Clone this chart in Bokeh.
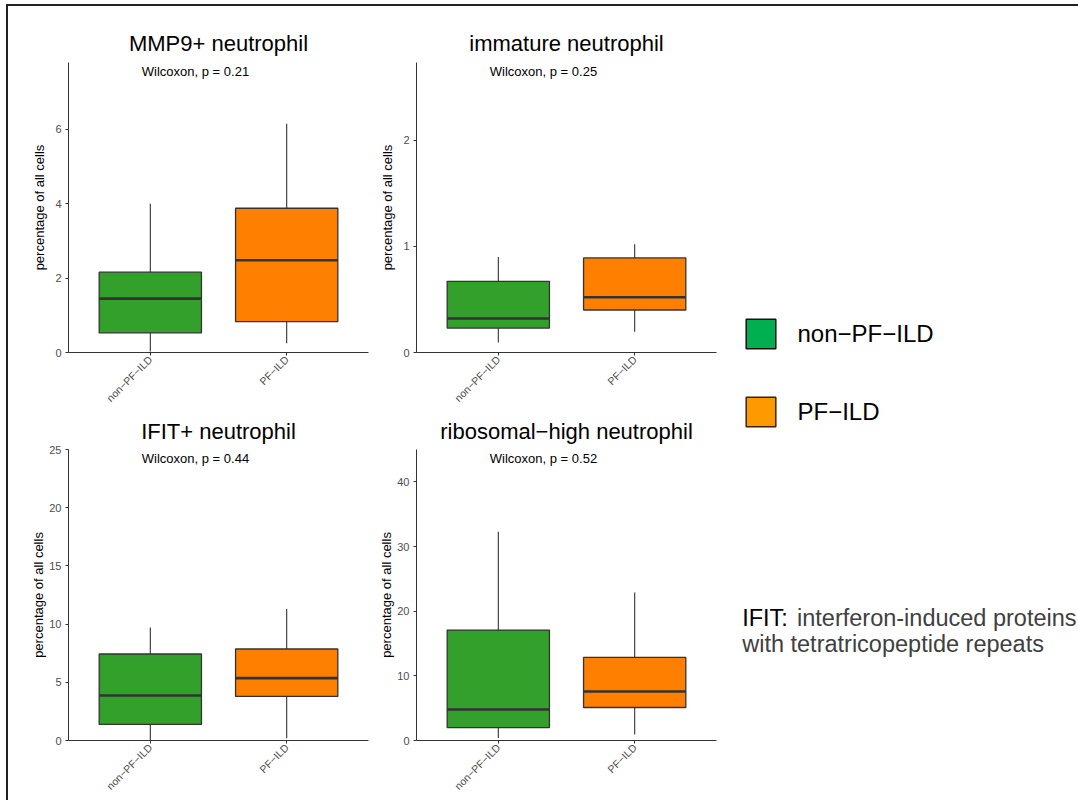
import math
from bokeh.plotting import figure
from bokeh.models import (Range1d, FactorRange, FixedTicker, Legend, LegendItem,
                          ColumnDataSource, Label)
from bokeh.layouts import row, column
from bokeh.embed import file_html
from bokeh.resources import INLINE
from bokeh.core.properties import value

# ---------------- data ----------------
groups = ["non−PF−ILD", "PF−ILD"]
box_colors = ["#33A02C", "#FF7F00"]
legend_colors = ["#00B050", "#FF9900"]
legend_lines = ["#111111", "#3A2400"]

titles = ["MMP9+ neutrophil", "immature neutrophil",
          "IFIT+ neutrophil", "ribosomal−high neutrophil"]
p_values = ["0.21", "0.25", "0.44", "0.52"]
y_max = [7.8, 2.73, 25.0, 45.0]
y_ticks = [[0, 2, 4, 6], [0, 1, 2], [0, 5, 10, 15, 20, 25], [0, 10, 20, 30, 40]]

# per panel: [non-PF-ILD, PF-ILD]
lower = [[0.03, 0.25], [0.094, 0.195], [0.05, 0.2], [0.4, 0.93]]
q1 = [[0.53, 0.83], [0.23, 0.40], [1.38, 3.79], [2.0, 5.1]]
median = [[1.45, 2.48], [0.32, 0.52], [3.87, 5.36], [4.8, 7.58]]
q3 = [[2.16, 3.88], [0.67, 0.89], [7.43, 7.86], [17.07, 12.85]]
upper = [[4.0, 6.15], [0.90, 1.02], [9.7, 11.3], [32.3, 22.9]]

note_head = "IFIT:"
note_line1 = "interferon-induced proteins"
note_line2 = "with tetratricopeptide repeats"

FONT = "Liberation Sans"
BOX_W = 0.75
AX = "#333333"


def make_panel(i):
    r, c = divmod(i, 2)
    p = figure(x_range=FactorRange(*groups, range_padding=0.1, range_padding_units="absolute"),
               y_range=Range1d(0, y_max[i]),
               frame_width=300, frame_height=[290, 291][r],
               min_border_left=[60, 40][c], min_border_right=[8, 14][c],
               min_border_top=[56, 34][r], min_border_bottom=[54, 54][r],
               title=titles[i], output_backend="svg", toolbar_location=None)
    src = ColumnDataSource(dict(
        x=groups, lo=lower[i], q1=q1[i], med=median[i], q3=q3[i], hi=upper[i],
        color=box_colors,
        left=[(g, -BOX_W / 2) for g in groups],
        right=[(g, BOX_W / 2) for g in groups]))
    p.segment(x0="x", x1="x", y0="q3", y1="hi", source=src, line_color=AX, line_width=1.1)
    p.segment(x0="x", x1="x", y0="lo", y1="q1", source=src, line_color=AX, line_width=1.1)
    p.vbar(x="x", bottom="q1", top="q3", width=BOX_W, fill_color="color",
           line_color=AX, line_width=1.3, source=src)
    p.segment(x0="left", x1="right", y0="med", y1="med", source=src,
              line_color=AX, line_width=2.6)
    p.text(x=[groups[0]], y=[0.969 * y_max[i]], text=[f"Wilcoxon, p = {p_values[i]}"],
           text_font=value(FONT), text_font_size="13px", text_align="left",
           text_baseline="alphabetic", x_offset=-8.5, text_color="black")

    p.title.align = "center"
    p.title.text_font = FONT
    p.title.text_font_size = "22px"
    p.title.text_font_style = "normal"
    p.title.text_color = "black"
    p.title.standoff = [14, 11][r]

    p.xgrid.grid_line_color = None
    p.ygrid.grid_line_color = None
    p.outline_line_color = None

    xa = p.xaxis[0]
    xa.axis_line_color = AX
    xa.major_tick_line_color = AX
    xa.major_tick_out = 3
    xa.major_tick_in = 0
    xa.major_label_orientation = math.pi / 4
    xa.major_label_text_font = FONT
    xa.major_label_text_font_size = "10.5px"
    xa.major_label_text_color = "#4D4D4D"
    xa.major_label_standoff = 2

    ya = p.yaxis[0]
    ya.ticker = FixedTicker(ticks=y_ticks[i])
    ya.axis_line_color = AX
    ya.major_tick_line_color = AX
    ya.major_tick_out = 3
    ya.major_tick_in = 0
    ya.minor_tick_line_color = None
    ya.major_label_text_font = FONT
    ya.major_label_text_font_size = "11px"
    ya.major_label_text_color = "#4D4D4D"
    ya.major_label_standoff = 4
    ya.axis_label = "percentage of all cells"
    ya.axis_label_text_font = FONT
    ya.axis_label_text_font_size = "13px"
    ya.axis_label_text_font_style = "normal"
    ya.axis_label_text_color = "black"
    ndig = max(len(str(t)) for t in y_ticks[i])
    ya.axis_label_standoff = max(0, int(11 - 6 * ndig))
    return p


panels = [make_panel(i) for i in range(4)]

# ------------- legend + note -------------
RF_W, RF_H = 348, 794
rf = figure(width=RF_W, height=RF_H, x_range=Range1d(0, RF_W), y_range=Range1d(RF_H, 0),
            min_border=0, output_backend="svg", toolbar_location=None,
            x_axis_location=None, y_axis_location=None)
rf.grid.visible = False
rf.outline_line_color = None
items = []
nan = float("nan")
for g, fc, lc in zip(groups, legend_colors, legend_lines):
    rr = rf.quad(left=[nan], right=[nan], top=[nan], bottom=[nan], fill_color=fc,
                 line_color=lc, line_width=1.5)
    items.append(LegendItem(label=g, renderers=[rr]))
legend = Legend(items=items, location=(11.5, 369.8), glyph_width=37, glyph_height=37,
                spacing=41, label_standoff=19, label_text_font=FONT,
                label_text_font_size="24px", label_text_color="black",
                padding=0, margin=0, border_line_alpha=0, background_fill_alpha=0)
rf.add_layout(legend)

NOTE_SIZE = "23.5px"
rf.add_layout(Label(x=11.7, y=611.7, text=note_head, text_font=FONT,
                    text_font_size=NOTE_SIZE, text_color="black",
                    text_baseline="alphabetic", text_align="left"))
rf.add_layout(Label(x=66.5, y=611.7, text=note_line1, text_font=FONT,
                    text_font_size=NOTE_SIZE, text_color="#404040",
                    text_baseline="alphabetic", text_align="left"))
rf.add_layout(Label(x=11.7, y=637.3, text=note_line2, text_font=FONT,
                    text_font_size=NOTE_SIZE, text_color="#404040",
                    text_baseline="alphabetic", text_align="left"))

layout = row(column(row(panels[0], panels[1]), row(panels[2], panels[3])), rf)
layout.styles = {"margin-left": "6px", "margin-top": "4px",
                 "border-left": "2px solid #222222", "border-top": "2px solid #222222"}

open("out.html", "w").write(file_html(layout, INLINE))
